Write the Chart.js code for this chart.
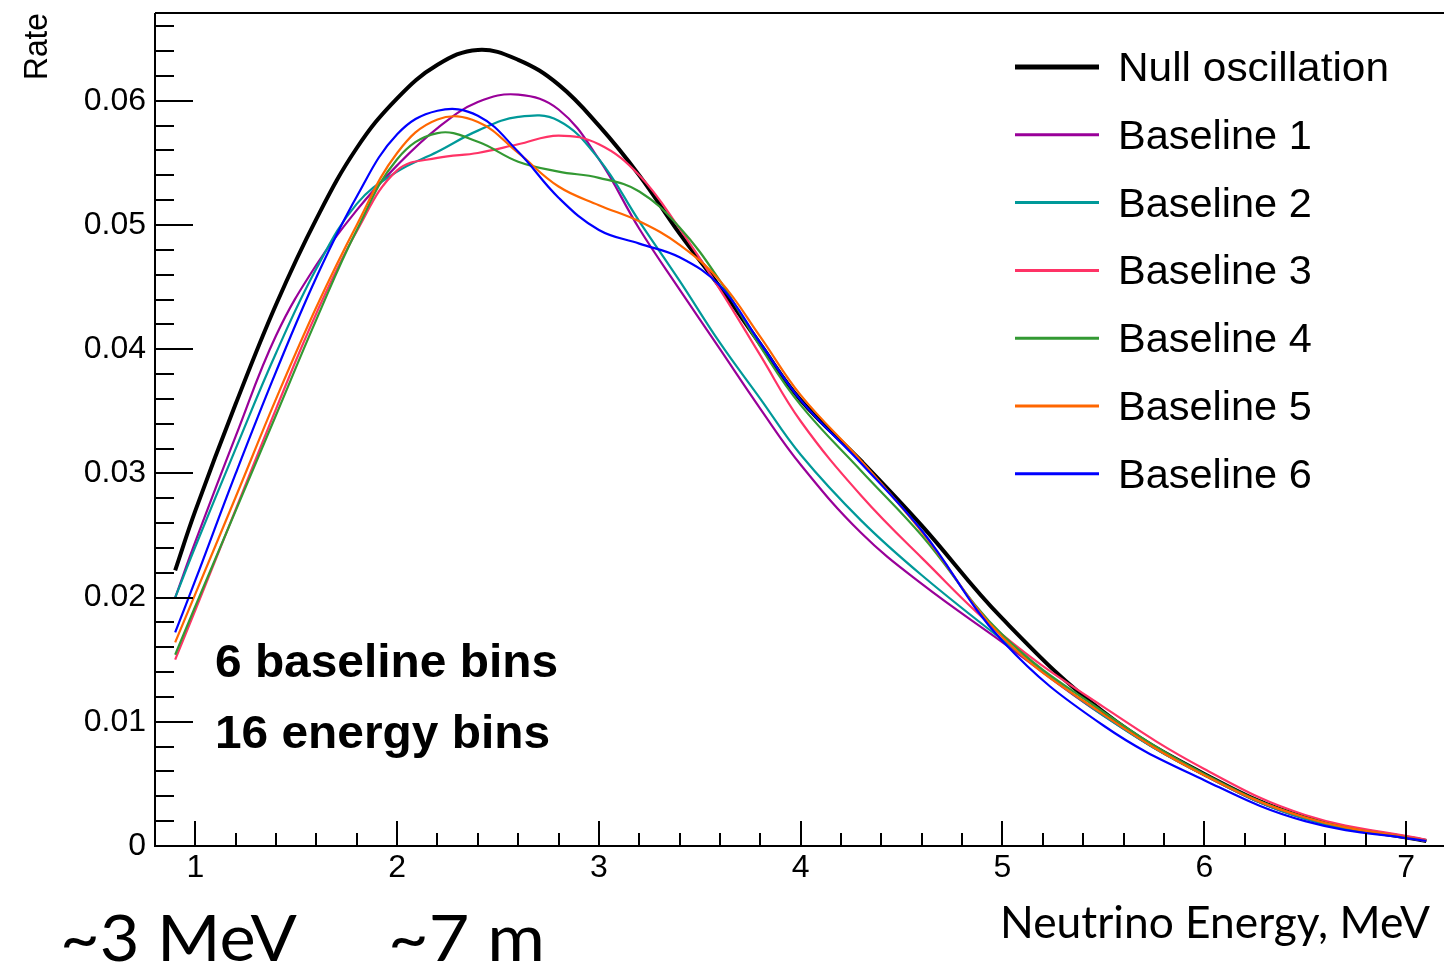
<!DOCTYPE html>
<html>
<head>
<meta charset="utf-8">
<script src="https://cdn.jsdelivr.net/npm/chart.js@4.4.1/dist/chart.umd.min.js"></script>
<style>
  html, body { margin: 0; padding: 0; background: #fff; overflow: hidden; }
  canvas { display: block; }
</style>
</head>
<body>
<canvas id="rateChart" width="1444" height="966"></canvas>
<script>
// neutrino energy (MeV) at which the curves were read
const energy = [0.9, 1.0, 1.2, 1.4, 1.6, 1.8, 2.0, 2.2, 2.4, 2.6, 2.8, 3.0,
  3.2, 3.4, 3.6, 3.8, 4.0, 4.3, 4.6, 5.0, 5.5, 6.0, 6.5, 7.1];

const nullOscillation = [0.0222, 0.0270, 0.0356, 0.0436, 0.0505, 0.0562, 0.0602, 0.0629,
  0.0641, 0.0633, 0.0613, 0.0580, 0.0540, 0.0493, 0.0450, 0.0404, 0.0359, 0.0310,
  0.0258, 0.0183, 0.0108, 0.0058, 0.0023, 0.0004];
const baseline1 = [0.0200, 0.0245, 0.0330, 0.0411, 0.0468, 0.0512, 0.0548, 0.0578,
  0.0599, 0.0605, 0.0593, 0.0553, 0.0497, 0.0448, 0.0400, 0.0352, 0.0307, 0.0252,
  0.0211, 0.0164, 0.0105, 0.0057, 0.0022, 0.0004];
const baseline2 = [0.0200, 0.0241, 0.0320, 0.0397, 0.0465, 0.0517, 0.0543, 0.0559,
  0.0576, 0.0587, 0.0584, 0.0553, 0.0503, 0.0455, 0.0405, 0.0360, 0.0315, 0.0262,
  0.0218, 0.0166, 0.0105, 0.0057, 0.0022, 0.0004];
const baseline3 = [0.0150, 0.0190, 0.0271, 0.0352, 0.0429, 0.0495, 0.0544, 0.0554,
  0.0558, 0.0565, 0.0572, 0.0565, 0.0540, 0.0497, 0.0448, 0.0395, 0.0342, 0.0282,
  0.0232, 0.0170, 0.0112, 0.0062, 0.0025, 0.0005];
const baseline4 = [0.0154, 0.0193, 0.0270, 0.0347, 0.0424, 0.0496, 0.0553, 0.0574,
  0.0567, 0.0551, 0.0543, 0.0538, 0.0527, 0.0498, 0.0455, 0.0402, 0.0355, 0.0302,
  0.0250, 0.0170, 0.0108, 0.0058, 0.0023, 0.0004];
const baseline5 = [0.0164, 0.0203, 0.0281, 0.0360, 0.0434, 0.0500, 0.0558, 0.0585,
  0.0583, 0.0558, 0.0531, 0.0516, 0.0503, 0.0484, 0.0455, 0.0410, 0.0363, 0.0310,
  0.0253, 0.0168, 0.0106, 0.0057, 0.0023, 0.0004];
const baseline6 = [0.0172, 0.0214, 0.0300, 0.0382, 0.0458, 0.0523, 0.0573, 0.0592,
  0.0588, 0.0559, 0.0522, 0.0496, 0.0485, 0.0474, 0.0451, 0.0405, 0.0359, 0.0308,
  0.0254, 0.0165, 0.0097, 0.0053, 0.0020, 0.0004];

const seriesNames = ['Null oscillation', 'Baseline 1', 'Baseline 2', 'Baseline 3',
  'Baseline 4', 'Baseline 5', 'Baseline 6'];
const seriesValues = [nullOscillation, baseline1, baseline2, baseline3,
  baseline4, baseline5, baseline6];
const seriesColors = ['#000000', '#990099', '#009999', '#ff3366', '#339933', '#ff6600', '#0000ff'];

const xTicks = [1, 2, 3, 4, 5, 6, 7];
const yTicks = [0, 0.01, 0.02, 0.03, 0.04, 0.05, 0.06];

// draw text squeezed/stretched to a given width
function fitText(ctx, text, x, y, font, width, align) {
  ctx.save();
  ctx.font = font;
  ctx.textAlign = align || 'left';
  ctx.textBaseline = 'alphabetic';
  const s = width / ctx.measureText(text).width;
  ctx.translate(x, y);
  ctx.scale(s, 1);
  ctx.fillText(text, 0, 0);
  ctx.restore();
}

// ROOT-like frame: ticks inside the pad, legend and labels
const rootFrame = {
  id: 'rootFrame',
  afterDatasetsDraw(chart) {
    const {ctx, chartArea: a, scales: {x, y}} = chart;
    ctx.save();
    ctx.strokeStyle = '#000';
    ctx.lineWidth = 2;
    ctx.beginPath();
    ctx.moveTo(a.left, a.top);
    ctx.lineTo(a.right, a.top);
    ctx.moveTo(a.left, a.top);
    ctx.lineTo(a.left, a.bottom);
    ctx.lineTo(a.right, a.bottom);
    for (let i = 1; i * 0.002 <= y.max; i++) {
      const py = Math.round(y.getPixelForValue(i * 0.002));
      ctx.moveTo(a.left, py);
      ctx.lineTo(a.left + (i % 5 === 0 ? 38 : 19), py);
    }
    for (let i = 4; i * 0.2 <= x.max; i++) {
      const px = Math.round(x.getPixelForValue(i * 0.2));
      if (px <= a.left + 2) continue;
      ctx.moveTo(px, a.bottom);
      ctx.lineTo(px, a.bottom - (i % 5 === 0 ? 25 : 13));
    }
    ctx.stroke();
    ctx.restore();
  },
  afterDraw(chart) {
    const ctx = chart.ctx;
    ctx.save();
    ctx.fillStyle = '#000';

    // legend
    chart.data.datasets.forEach((ds, i) => {
      const rowY = 67 + i * 67.8;
      ctx.strokeStyle = ds.borderColor;
      ctx.lineWidth = i === 0 ? 5 : 3;
      ctx.beginPath();
      ctx.moveTo(1015, rowY);
      ctx.lineTo(1099, rowY);
      ctx.stroke();
      ctx.font = '40px "Liberation Sans"';
      const w = ctx.measureText(ds.label).width * (i === 0 ? 1.06 : 1.037);
      fitText(ctx, ds.label, 1118, rowY + 14, '40px "Liberation Sans"', w);
    });

    // axis titles
    ctx.save();
    ctx.translate(47, 13);
    ctx.rotate(-Math.PI / 2);
    fitText(ctx, 'Rate', 0, 0, '34px "Liberation Sans"', 67, 'right');
    ctx.restore();
    fitText(ctx, 'Neutrino Energy, MeV', 1430, 938, '45px Lato', 430, 'right');

    // annotations
    fitText(ctx, '6 baseline bins', 215, 677, 'bold 46px "Liberation Sans"', 343);
    fitText(ctx, '16 energy bins', 215, 748, 'bold 46px "Liberation Sans"', 335);
    fitText(ctx, '~3 MeV', 60, 961, '64px Lato', 237);
    fitText(ctx, '~7 m', 388, 961, '64px Lato', 157);
    ctx.restore();
  },
};

new Chart(document.getElementById('rateChart'), {
  type: 'line',
  data: {
    datasets: seriesNames.map((name, i) => ({
      label: name,
      data: energy.map((e, k) => ({x: e, y: seriesValues[i][k]})),
      borderColor: seriesColors[i],
      borderWidth: i === 0 ? 4 : 2.2,
      pointRadius: 0,
      fill: false,
      tension: 0.4,
      order: seriesNames.length - i,
    })),
  },
  options: {
    responsive: false,
    animation: false,
    devicePixelRatio: 1,
    layout: {padding: {top: 13, left: 0, right: 0, bottom: 0}},
    plugins: {
      legend: {display: false},
      tooltip: {enabled: false},
    },
    scales: {
      x: {
        type: 'linear',
        min: 0.8,
        max: 7.188,
        grid: {display: false, drawTicks: false},
        border: {display: false},
        afterBuildTicks: (s) => {
          s.ticks = xTicks.map((v) => ({value: v}));
        },
        afterFit: (s) => {
          s.height = 120;
          s.paddingLeft = 0;
          s.paddingRight = 0;
        },
        ticks: {
          color: '#000',
          font: {family: 'Liberation Sans', size: 32},
          padding: 3,
          maxRotation: 0,
          autoSkip: false,
          callback: (v) => String(v),
        },
      },
      y: {
        type: 'linear',
        min: 0,
        max: 0.06707,
        grid: {display: false, drawTicks: false},
        border: {display: false},
        afterBuildTicks: (s) => {
          s.ticks = yTicks.map((v) => ({value: v}));
        },
        afterFit: (s) => {
          s.width = 155;
          s.paddingTop = 0;
          s.paddingBottom = 0;
        },
        ticks: {
          color: '#000',
          font: {family: 'Liberation Sans', size: 32},
          padding: 9,
          autoSkip: false,
          callback: (v) => (v === 0 ? '0' : v.toFixed(2)),
        },
      },
    },
  },
  plugins: [rootFrame],
});
</script>
</body>
</html>
